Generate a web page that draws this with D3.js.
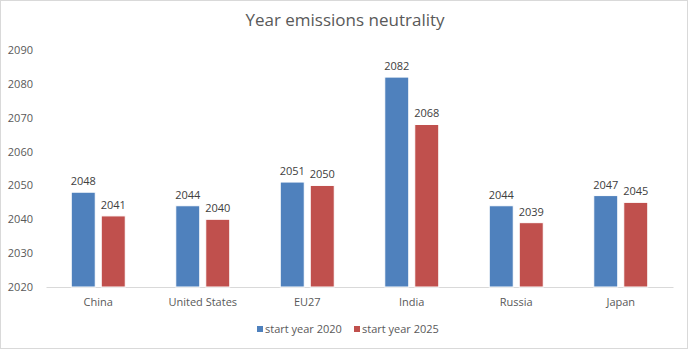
<!DOCTYPE html>
<html><head><meta charset="utf-8">
<script src="https://cdn.jsdelivr.net/npm/d3@7"></script>
<style>
body{margin:0;background:#fff;}
text{font-family:"Open Sans","Liberation Sans",sans-serif;}
</style></head>
<body><svg id="c" width="689" height="350"></svg>
<script>
const categories = ["China","United States","EU27","India","Russia","Japan"];
const seriesNames = ["start year 2020","start year 2025"];
const start2020 = [2048,2044,2051,2082,2044,2047];
const start2025 = [2041,2040,2050,2068,2039,2045];
const yTicks = [2020,2030,2040,2050,2060,2070,2080,2090];
const colors = ["#4F81BD","#C0504D"];

const svg = d3.select("#c");
svg.append("rect").attr("x",0.5).attr("y",0.5).attr("width",687).attr("height",348)
  .attr("fill","#fff").attr("stroke","#d9d9d9");

const m = {l:46, r:673, t:50, b:287};
const x = d3.scaleBand().domain(categories).range([m.l, m.r]).paddingInner(0).paddingOuter(0);
const y = d3.scaleLinear().domain([2020,2090]).range([m.b, m.t]);
const bw = 24, gap = 6;

svg.append("text").attr("x",345).attr("y",26).attr("text-anchor","middle")
  .attr("font-size",17).attr("fill","#595959").text("Year emissions neutrality");

const yAxis = d3.axisLeft(y).tickValues(yTicks).tickSize(0).tickFormat(d3.format("d"));
const ya = svg.append("g").attr("transform",`translate(${m.l-10},0)`).call(yAxis);
ya.select(".domain").remove();
ya.selectAll("text").attr("font-size",11).attr("fill","#595959").attr("font-family","'Open Sans',sans-serif");

const xAxis = d3.axisBottom(x).tickSize(0);
const xa = svg.append("g").attr("transform",`translate(0,${m.b})`).call(xAxis);
xa.select(".domain").attr("stroke","#d9d9d9");
xa.selectAll("text").attr("font-size",11).attr("fill","#595959").attr("dy","1.45em").attr("font-family","'Open Sans',sans-serif");

const series = [start2020, start2025];
series.forEach((vals, si) => {
  const g = svg.append("g");
  categories.forEach((c, i) => {
    const cx = x(c) + x.bandwidth()/2;
    const bx = si === 0 ? cx - gap/2 - bw : cx + gap/2;
    g.append("rect").attr("x",bx).attr("y",y(vals[i])).attr("width",bw)
      .attr("height",y(2020)-y(vals[i])).attr("fill",colors[si])
      .attr("stroke","#fff").attr("stroke-width",1);
    g.append("text").attr("x",bx+bw/2).attr("y",y(vals[i])-7).attr("text-anchor","middle")
      .attr("font-size",11).attr("fill","#404040").text(vals[i]);
  });
});

const lg = svg.append("g");
const legX = [257, 354];
seriesNames.forEach((n, i) => {
  lg.append("rect").attr("x",legX[i]).attr("y",326).attr("width",6).attr("height",6).attr("fill",colors[i]);
  lg.append("text").attr("x",legX[i]+8).attr("y",332.5).attr("font-size",11).attr("fill","#595959").text(n);
});
</script></body></html>
